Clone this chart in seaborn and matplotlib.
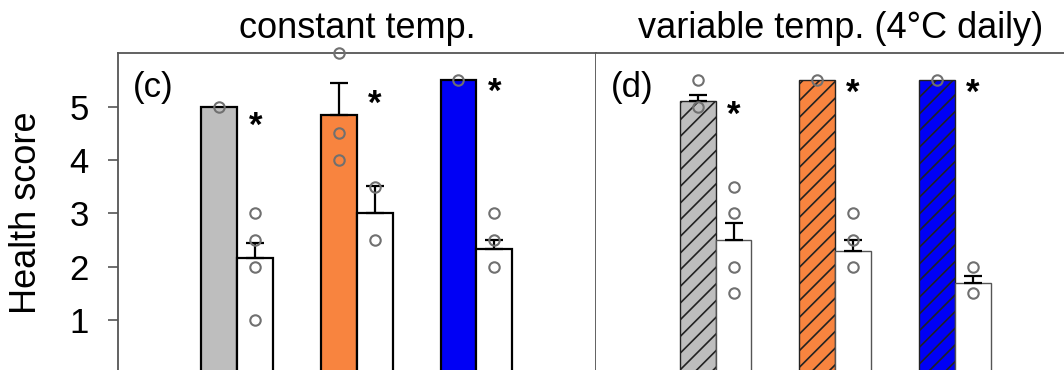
import numpy as np
import pandas as pd
import matplotlib
matplotlib.use("Agg")
import matplotlib.pyplot as plt
import matplotlib.transforms as mtransforms
import seaborn as sns

sns.set_style("white")
plt.rcParams['font.family'] = ['Liberation Sans', 'DejaVu Sans']
plt.rcParams['text.color'] = 'black'
plt.rcParams['ytick.labelcolor'] = 'black'
plt.rcParams['hatch.linewidth'] = 1.2
plt.rcParams['hatch.color'] = 'black'

# ---------------- data ----------------
groups = ["gray", "orange", "blue"]
conditions = ["treated", "control"]
bar_colors = ["#BEBEBE", "#F8843F", "#0000F5"]

# constant temp. (panel c)
c_mean_col = [5.0, 4.84, 5.5]
c_se_col = [0.0, 0.60, 0.0]
c_mean_wht = [2.16, 3.0, 2.33]
c_se_wht = [0.29, 0.51, 0.17]
c_pts_col = [[5.0], [6.0, 4.5, 4.0], [5.5]]
c_pts_wht = [[3.0, 2.5, 2.0, 1.0], [3.5, 2.5], [3.0, 2.5, 2.0]]
c_star_y = [4.83, 5.25, 5.47]

# variable temp. (panel d)
d_mean_col = [5.11, 5.5, 5.5]
d_se_col = [0.11, 0.0, 0.0]
d_mean_wht = [2.5, 2.30, 1.70]
d_se_wht = [0.31, 0.20, 0.13]
d_pts_col = [[5.5, 5.0], [5.5], [5.5]]
d_pts_wht = [[3.5, 3.0, 2.0, 1.5], [3.0, 2.5, 2.0], [2.0, 1.5]]
d_star_y = [5.03, 5.45, 5.45]

yticks = [1, 2, 3, 4, 5]
titles = ["constant temp.", "variable temp. (4\u00b0C daily)"]
panel_labels = ["(c)", "(d)"]
ylabel = "Health score"

# ---------------- figure ----------------
W, H = 1064, 370
fig = plt.figure(figsize=(W / 100, H / 100), dpi=100)
left_px, div_px, top_px, zero_px = 117.7, 596.0, 53.3, 373.3
pw = (div_px - left_px) / W
bot = (H - zero_px) / H
ph = (zero_px - top_px) / H
axL = fig.add_axes([left_px / W, bot, pw, ph])
axR = fig.add_axes([div_px / W, bot, pw, ph])

spine_col = "#555555"
STAR_FS = 25


def draw_panel(ax, mean_col, se_col, mean_wht, se_wht, pts_col, pts_wht,
               star_y, hatched, edge_lw, edge_col, wht_edge):
    df = pd.DataFrame({
        "group": groups * 2,
        "cond": [conditions[0]] * 3 + [conditions[1]] * 3,
        "value": list(mean_col) + list(mean_wht),
    })
    sns.barplot(data=df, x="group", y="value", hue="cond", order=groups,
                hue_order=conditions, width=0.6, dodge=True, gap=0,
                errorbar=None, legend=False, ax=ax,
                palette=["#BEBEBE", "white"], saturation=1)
    col_bars = ax.containers[0]
    wht_bars = ax.containers[1]
    for p, c in zip(col_bars, bar_colors):
        p.set_facecolor(c)
        p.set_edgecolor(edge_col)
        p.set_linewidth(edge_lw)
        if hatched:
            p.set_hatch("//")
    for p in wht_bars:
        p.set_facecolor("white")
        p.set_edgecolor(wht_edge)
        p.set_linewidth(edge_lw)

    xc_col = [p.get_x() + p.get_width() / 2 for p in col_bars]
    xc_wht = [p.get_x() + p.get_width() / 2 for p in wht_bars]

    # one-sided error bars
    for xs, m, s in ((xc_col, mean_col, se_col), (xc_wht, mean_wht, se_wht)):
        for x, mv, sv in zip(xs, m, s):
            if sv > 0:
                ax.errorbar([x], [mv], yerr=[[0], [sv]], fmt="none",
                            ecolor="black", elinewidth=1.6, capsize=6.3,
                            capthick=1.6, zorder=4)

    # individual points
    for xs, pts in ((xc_col, pts_col), (xc_wht, pts_wht)):
        for x, pl in zip(xs, pts):
            ax.plot([x] * len(pl), pl, "o", mfc="none", mec="#707070",
                    ms=7.5, mew=1.5, zorder=5, clip_on=False)

    # significance stars
    off = mtransforms.offset_copy(ax.transData, fig=fig, x=0,
                                  y=-0.58 * STAR_FS, units="points")
    for x, y in zip(xc_wht, star_y):
        ax.text(x, y, "*", ha="center", va="baseline", fontsize=STAR_FS,
                fontweight="bold", transform=off, color="black")

    ax.set_xlim(-1.0, 3.0)
    ax.set_ylim(0, 6.0)
    ax.set_xlabel("")
    ax.set_ylabel("")
    ax.set_xticks([])
    for s in ax.spines.values():
        s.set_color(spine_col)
        s.set_linewidth(1.3)
    ax.spines["bottom"].set_visible(False)


draw_panel(axL, c_mean_col, c_se_col, c_mean_wht, c_se_wht, c_pts_col,
           c_pts_wht, c_star_y, False, 1.6, "black", "black")
draw_panel(axR, d_mean_col, d_se_col, d_mean_wht, d_se_wht, d_pts_col,
           d_pts_wht, d_star_y, True, 1.0, "#222222", "#555555")

axL.set_yticks(yticks)
axL.set_yticklabels([str(t) for t in yticks])
axL.tick_params(axis="y", left=True, length=7.2, width=1.2, color=spine_col,
                labelsize=25, pad=13.5, labelcolor="black")
axR.set_yticks([])
axR.spines["left"].set_visible(False)

for ax, lab in zip((axL, axR), panel_labels):
    ax.text(0.032, 5.35, lab, transform=mtransforms.blended_transform_factory(
        ax.transAxes, ax.transData), ha="left", va="center", fontsize=25,
        color="black")

fig.text((left_px + div_px) / 2 / W, 1 - 28 / H, titles[0], ha="center",
         va="center", fontsize=26, color="black")
fig.text(841 / W, 1 - 28 / H, titles[1], ha="center", va="center",
         fontsize=26, color="black")
fig.text(27 / W, 1 - 213 / H, ylabel, rotation=90, ha="center", va="center",
         fontsize=26, color="black")

fig.savefig("out.png", dpi=100)
